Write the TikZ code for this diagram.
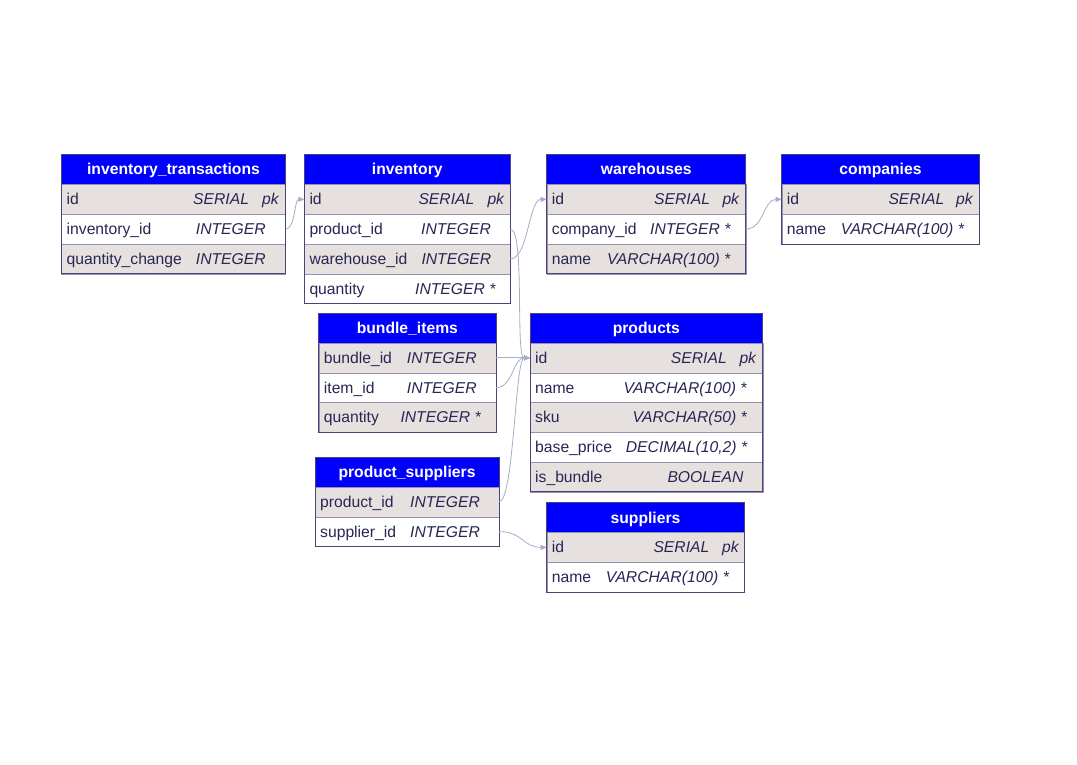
\documentclass[tikz,border=0pt]{standalone}
\usepackage{fontspec}
\setmainfont{Liberation Sans}
\usepackage{xcolor}
\usetikzlibrary{arrows.meta}
\definecolor{hdblue}{RGB}{0,0,255}
\definecolor{rowgrey}{RGB}{230,225,222}
\definecolor{frame}{RGB}{72,68,120}
\definecolor{sep}{RGB}{150,146,176}
\definecolor{ink}{RGB}{40,38,84}
\definecolor{link}{RGB}{166,173,198}

\begin{document}
\begin{tikzpicture}[x=1pt,y=-1pt,
        font=\fontsize{15.7}{18}\selectfont,
        txt/.style={inner xsep=0pt,inner ysep=0pt,text height=11pt,text depth=0pt},
        hd/.style={txt,fill=hdblue,text=white,font=\fontsize{15.7}{18}\selectfont\bfseries,minimum height=30,anchor=north west,outer sep=0pt},
        rg/.style={draw=sep,fill=rowgrey,minimum height=29.75,anchor=north west,inner sep=0pt,outer sep=0pt},
        rw/.style={rg,fill=white},
        nm/.style={txt,text=ink,anchor=west,xshift=5},
        ty/.style={txt,text=ink,anchor=west,font=\fontsize{15.7}{18}\selectfont\itshape},
        frm/.style={draw=frame,line width=1},
        fk/.style={draw=link,line width=0.8,-{Triangle[length=6,width=5]}}]
        \useasboundingbox (0,0) rectangle (1077,765);

        \node[hd,minimum width=224] (it) at (61.5,154.5) {inventory\_transactions};
        \node[rg,minimum width=224] (it-id) at (it.south west) {};
        \node[rw,minimum width=224] (it-inv) at (it-id.south west) {};
        \node[rg,minimum width=224] (it-qty) at (it-inv.south west) {};
        \node[nm] at (it-id.west) {id};
        \node[nm] at (it-inv.west) {inventory\_id};
        \node[nm] at (it-qty.west) {quantity\_change};
        \node[ty] at (193,0 |- it-id) {SERIAL};
        \node[ty] at (262,0 |- it-id) {pk};
        \node[ty] at (195.7,0 |- it-inv) {INTEGER};
        \node[ty] at (195.7,0 |- it-qty) {INTEGER};
        \draw[frm] (it.north west) rectangle (it-qty.south east);

        \node[hd,minimum width=206] (inv) at (304.3,154.5) {inventory};
        \node[rg,minimum width=206] (inv-id) at (inv.south west) {};
        \node[rw,minimum width=206] (inv-prod) at (inv-id.south west) {};
        \node[rg,minimum width=206] (inv-wh) at (inv-prod.south west) {};
        \node[rw,minimum width=206] (inv-qty) at (inv-wh.south west) {};
        \node[nm] at (inv-id.west) {id};
        \node[nm] at (inv-prod.west) {product\_id};
        \node[nm] at (inv-wh.west) {warehouse\_id};
        \node[nm] at (inv-qty.west) {quantity};
        \node[ty] at (418.3,0 |- inv-id) {SERIAL};
        \node[ty] at (487.3,0 |- inv-id) {pk};
        \node[ty] at (421,0 |- inv-prod) {INTEGER};
        \node[ty] at (421.3,0 |- inv-wh) {INTEGER};
        \node[ty] at (415,0 |- inv-qty) {INTEGER *};
        \draw[frm] (inv.north west) rectangle (inv-qty.south east);

        \node[hd,minimum width=199] (wh) at (546.7,154.5) {warehouses};
        \node[rg,minimum width=199] (wh-id) at (wh.south west) {};
        \node[rw,minimum width=199] (wh-co) at (wh-id.south west) {};
        \node[rg,minimum width=199] (wh-name) at (wh-co.south west) {};
        \node[nm] at (wh-id.west) {id};
        \node[nm] at (wh-co.west) {company\_id};
        \node[nm] at (wh-name.west) {name};
        \node[ty] at (654,0 |- wh-id) {SERIAL};
        \node[ty] at (722.3,0 |- wh-id) {pk};
        \node[ty] at (650,0 |- wh-co) {INTEGER *};
        \node[ty] at (607,0 |- wh-name) {VARCHAR(100) *};
        \draw[frm] (wh.north west) rectangle (wh-name.south east);

        \node[hd,minimum width=197.6] (co) at (781.7,154.5) {companies};
        \node[rg,minimum width=197.6] (co-id) at (co.south west) {};
        \node[rw,minimum width=197.6] (co-name) at (co-id.south west) {};
        \node[nm] at (co-id.west) {id};
        \node[nm] at (co-name.west) {name};
        \node[ty] at (888.3,0 |- co-id) {SERIAL};
        \node[ty] at (956,0 |- co-id) {pk};
        \node[ty] at (840.7,0 |- co-name) {VARCHAR(100) *};
        \draw[frm] (co.north west) rectangle (co-name.south east);

        \node[hd,minimum width=177.3] (bi) at (318.7,313) {bundle\_items};
        \node[rg,minimum width=177.3] (bi-bun) at (bi.south west) {};
        \node[rw,minimum width=177.3] (bi-item) at (bi-bun.south west) {};
        \node[rg,minimum width=177.3] (bi-qty) at (bi-item.south west) {};
        \node[nm] at (bi-bun.west) {bundle\_id};
        \node[nm] at (bi-item.west) {item\_id};
        \node[nm] at (bi-qty.west) {quantity};
        \node[ty] at (406.7,0 |- bi-bun) {INTEGER};
        \node[ty] at (406.7,0 |- bi-item) {INTEGER};
        \node[ty] at (400.3,0 |- bi-qty) {INTEGER *};
        \draw[frm] (bi.north west) rectangle (bi-qty.south east);

        \node[hd,minimum width=232.7] (pr) at (530,313) {products};
        \node[rg,minimum width=232.7] (pr-id) at (pr.south west) {};
        \node[rw,minimum width=232.7] (pr-name) at (pr-id.south west) {};
        \node[rg,minimum width=232.7] (pr-sku) at (pr-name.south west) {};
        \node[rw,minimum width=232.7] (pr-price) at (pr-sku.south west) {};
        \node[rg,minimum width=232.7] (pr-bun) at (pr-price.south west) {};
        \node[nm] at (pr-id.west) {id};
        \node[nm] at (pr-name.west) {name};
        \node[nm] at (pr-sku.west) {sku};
        \node[nm] at (pr-price.west) {base\_price};
        \node[nm] at (pr-bun.west) {is\_bundle};
        \node[ty] at (670.7,0 |- pr-id) {SERIAL};
        \node[ty] at (739.3,0 |- pr-id) {pk};
        \node[ty] at (623.3,0 |- pr-name) {VARCHAR(100) *};
        \node[ty] at (632.3,0 |- pr-sku) {VARCHAR(50) *};
        \node[ty] at (625.7,0 |- pr-price) {DECIMAL(10,2) *};
        \node[ty] at (667.3,0 |- pr-bun) {BOOLEAN};
        \draw[frm] (pr.north west) rectangle (pr-bun.south east);

        \node[hd,minimum width=184] (ps) at (315,457) {product\_suppliers};
        \node[rg,minimum width=184] (ps-prod) at (ps.south west) {};
        \node[rw,minimum width=184] (ps-sup) at (ps-prod.south west) {};
        \node[nm] at (ps-prod.west) {product\_id};
        \node[nm] at (ps-sup.west) {supplier\_id};
        \node[ty] at (410,0 |- ps-prod) {INTEGER};
        \node[ty] at (410,0 |- ps-sup) {INTEGER};
        \draw[frm] (ps.north west) rectangle (ps-sup.south east);

        \node[hd,minimum width=197.6] (su) at (546.7,502.5) {suppliers};
        \node[rg,minimum width=197.6] (su-id) at (su.south west) {};
        \node[rw,minimum width=197.6] (su-name) at (su-id.south west) {};
        \node[nm] at (su-id.west) {id};
        \node[nm] at (su-name.west) {name};
        \node[ty] at (653.3,0 |- su-id) {SERIAL};
        \node[ty] at (722,0 |- su-id) {pk};
        \node[ty] at (605.7,0 |- su-name) {VARCHAR(100) *};
        \draw[frm] (su.north west) rectangle (su-name.south east);

        \draw[fk] (it-inv.east) .. controls +(10,0) and +(-10,0) .. (inv-id.west);
        \draw[fk] (wh-co.east) .. controls +(18,0) and +(-18,0) .. (co-id.west);
        \draw[fk] (inv-prod.east) .. controls +(15,0) and +(-15,0) .. (pr-id.west);
        \draw[fk] (inv-wh.east) .. controls +(18,0) and +(-18,0) .. (wh-id.west);
        \draw[fk] (bi-bun.east) -- (pr-id.west);
        \draw[fk] (bi-item.east) .. controls +(17,0) and +(-17,0) .. (pr-id.west);
        \draw[fk] (ps-prod.east) .. controls +(15,0) and +(-15,0) .. (pr-id.west);
        \draw[fk] (ps-sup.east) .. controls +(24,0) and +(-24,0) .. (su-id.west);
\end{tikzpicture}
\end{document}
